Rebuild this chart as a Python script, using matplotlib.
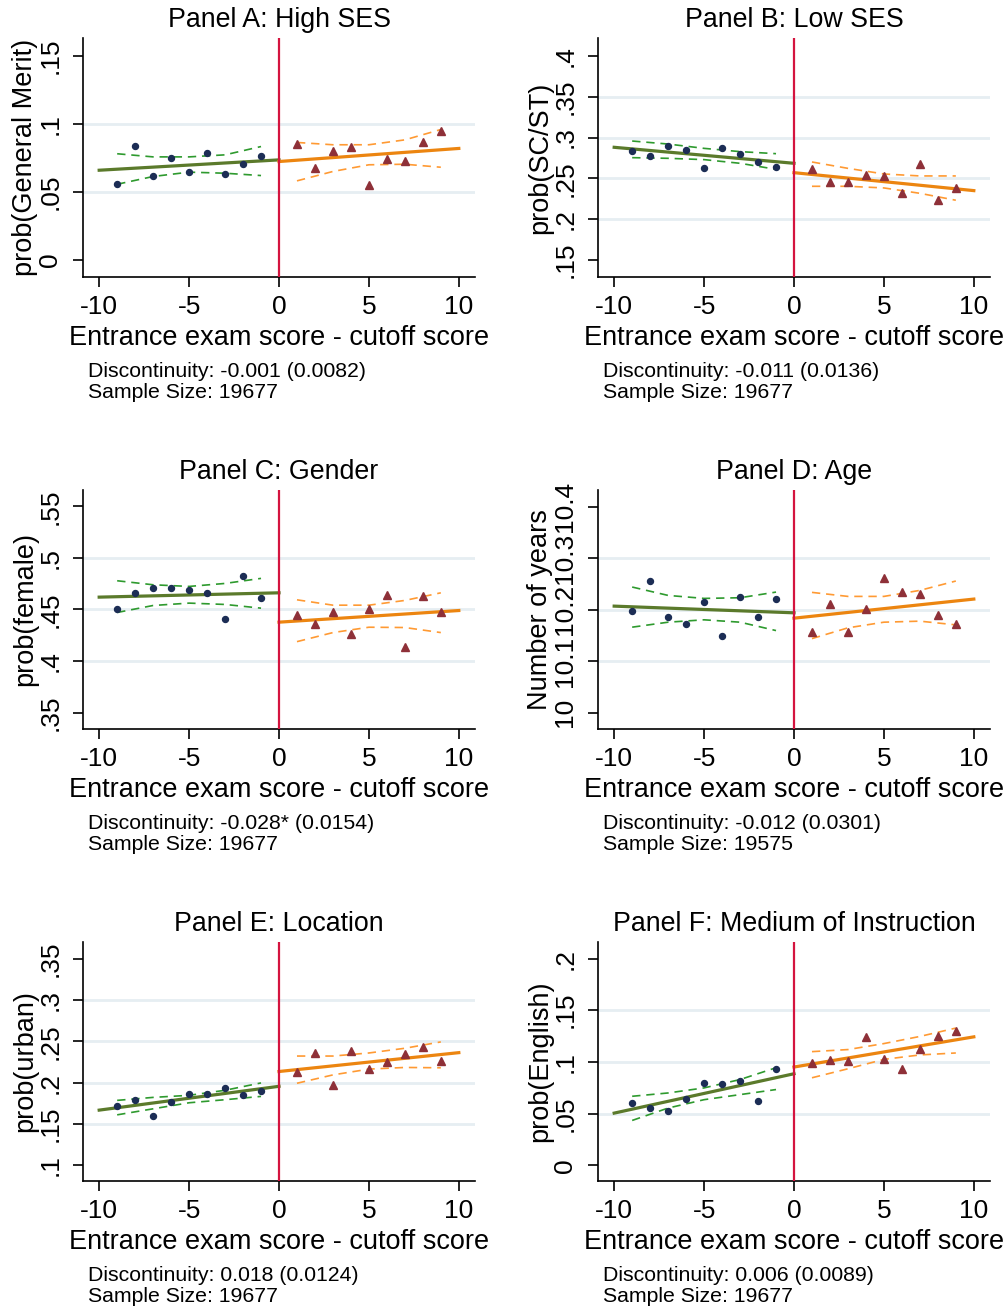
import numpy as np
import matplotlib
matplotlib.use("Agg")
from matplotlib import pyplot as plt

plt.rcParams['font.family'] = ['Liberation Sans', 'DejaVu Sans']

# bins of the running variable
x_left = [-9, -8, -7, -6, -5, -4, -3, -2, -1]
x_right = [1, 2, 3, 4, 5, 6, 7, 8, 9]
# points where the confidence bands were read
ci_x_left = [-9, -7, -5, -3, -1]
ci_x_right = [1, 3, 5, 7, 9]
fit_x_left = [-10, 0]
fit_x_right = [0, 10]

titles = ["Panel A: High SES", "Panel B: Low SES", "Panel C: Gender",
          "Panel D: Age", "Panel E: Location", "Panel F: Medium of Instruction"]
ylabels = ["prob(General Merit)", "prob(SC/ST)", "prob(female)",
           "Number of years", "prob(urban)", "prob(English)"]
yticks = [[0, 0.05, 0.1, 0.15],
          [0.15, 0.2, 0.25, 0.3, 0.35, 0.4],
          [0.35, 0.4, 0.45, 0.5, 0.55],
          [10, 10.1, 10.2, 10.3, 10.4],
          [0.1, 0.15, 0.2, 0.25, 0.3, 0.35],
          [0, 0.05, 0.1, 0.15, 0.2]]
yticklabels = [["0", ".05", ".1", ".15"],
               [".15", ".2", ".25", ".3", ".35", ".4"],
               [".35", ".4", ".45", ".5", ".55"],
               ["10", "10.1", "10.2", "10.3", "10.4"],
               [".1", ".15", ".2", ".25", ".3", ".35"],
               ["0", ".05", ".1", ".15", ".2"]]
ylims = [(-0.0125, 0.163), (0.129, 0.422), (0.334, 0.566),
         (9.968, 10.4325), (0.081, 0.37), (-0.0153, 0.216)]
disc = ["-0.001 (0.0082)", "-0.011 (0.0136)", "-0.028* (0.0154)",
        "-0.012 (0.0301)", "0.018 (0.0124)", "0.006 (0.0089)"]
sample = ["19677", "19677", "19677", "19575", "19677", "19677"]

# bin means
dots_a = [0.0556, 0.0838, 0.0615, 0.0748, 0.0647, 0.0787, 0.0630, 0.0703, 0.0760]
tri_a = [0.0853, 0.0674, 0.0799, 0.0831, 0.0549, 0.0738, 0.0730, 0.0865, 0.0944]
dots_b = [0.2839, 0.2778, 0.2896, 0.2847, 0.2631, 0.2876, 0.2794, 0.2696, 0.2643]
tri_b = [0.2610, 0.2451, 0.2459, 0.2541, 0.2529, 0.2324, 0.2676, 0.2239, 0.2382]
dots_c = [0.4506, 0.4659, 0.4705, 0.4705, 0.4692, 0.4662, 0.4403, 0.4825, 0.4610]
tri_c = [0.4448, 0.4357, 0.4474, 0.4260, 0.4503, 0.4643, 0.4136, 0.4630, 0.4480]
dots_d = [10.197, 10.256, 10.186, 10.172, 10.215, 10.148, 10.224, 10.185, 10.220]
tri_d = [10.156, 10.211, 10.156, 10.202, 10.262, 10.235, 10.231, 10.189, 10.172]
dots_e = [0.1720, 0.1789, 0.1598, 0.1768, 0.1866, 0.1866, 0.1939, 0.1846, 0.1902]
tri_e = [0.2134, 0.2358, 0.1976, 0.2386, 0.2163, 0.2252, 0.2341, 0.2435, 0.2260]
dots_f = [0.0602, 0.0553, 0.0520, 0.0644, 0.0793, 0.0787, 0.0813, 0.0624, 0.0927]
tri_f = [0.0985, 0.1018, 0.1008, 0.1236, 0.1031, 0.0933, 0.1122, 0.1246, 0.1294]

# linear fits (value at the two ends)
fitl = [[0.0659, 0.0735], [0.2880, 0.2684], [0.4620, 0.4662],
        [10.2068, 10.1938], [0.1667, 0.1955], [0.0504, 0.0885]]
fitr = [[0.0723, 0.0819], [0.2569, 0.2349], [0.4377, 0.4490],
        [10.1834, 10.2205], [0.2134, 0.2362], [0.0950, 0.1242]]

# confidence bands
ci_up_l = [[0.0780, 0.0757, 0.0757, 0.0772, 0.0833],
           [0.2957, 0.2920, 0.2867, 0.2827, 0.2802],
           [0.4779, 0.4740, 0.4724, 0.4753, 0.4802],
           [10.2439, 10.2276, 10.2218, 10.2231, 10.2341],
           [0.1785, 0.1821, 0.1846, 0.1907, 0.1996],
           [0.0667, 0.0699, 0.0748, 0.0829, 0.0943]]
ci_lo_l = [[0.0556, 0.0613, 0.0645, 0.0637, 0.0620],
           [0.2753, 0.2745, 0.2729, 0.2684, 0.2610],
           [0.4471, 0.4539, 0.4562, 0.4549, 0.4513],
           [10.1659, 10.1756, 10.1802, 10.1756, 10.1593],
           [0.1610, 0.1683, 0.1756, 0.1793, 0.1833],
           [0.0433, 0.0553, 0.0634, 0.0683, 0.0732]]
ci_up_r = [[0.0863, 0.0846, 0.0846, 0.0882, 0.0958],
           [0.2700, 0.2622, 0.2553, 0.2529, 0.2529],
           [0.4594, 0.4542, 0.4542, 0.4588, 0.4662],
           [10.2335, 10.2257, 10.2257, 10.2374, 10.2556],
           [0.2321, 0.2321, 0.2358, 0.2415, 0.2492],
           [0.1099, 0.1119, 0.1177, 0.1246, 0.1327]]
ci_lo_r = [[0.0581, 0.0650, 0.0699, 0.0703, 0.0681],
           [0.2402, 0.2402, 0.2382, 0.2316, 0.2231],
           [0.4188, 0.4276, 0.4328, 0.4325, 0.4276],
           [10.1437, 10.1646, 10.1756, 10.1776, 10.1704],
           [0.1992, 0.2093, 0.2163, 0.2183, 0.2179],
           [0.0846, 0.0933, 0.1024, 0.1067, 0.1086]]

dots = [dots_a, dots_b, dots_c, dots_d, dots_e, dots_f]
tris = [tri_a, tri_b, tri_c, tri_d, tri_e, tri_f]

W, H = 1006, 1309
fig = plt.figure(figsize=(W / 100, H / 100), dpi=100)

col_left = [83, 598]
col_w = 392
row_top = [38, 490, 942]
row_h = 239

for i in range(6):
    r, c = i // 2, i % 2
    x0 = col_left[c]
    y0 = row_top[r]
    ax = fig.add_axes([x0 / W, 1 - (y0 + row_h) / H, col_w / W, row_h / H])

    ax.set_xlim(-10.9, 10.9)
    ax.set_ylim(*ylims[i])
    for t in yticks[i][1:-1]:
        ax.axhline(t, color='#e6eef2', lw=2, zorder=0)

    ax.plot(ci_x_left, ci_up_l[i], ls=(0, (5, 3.5)), color='#2e9a2e', lw=1.2, zorder=2)
    ax.plot(ci_x_left, ci_lo_l[i], ls=(0, (5, 3.5)), color='#2e9a2e', lw=1.2, zorder=2)
    ax.plot(ci_x_right, ci_up_r[i], ls=(0, (5, 3.5)), color='#ff9a33', lw=1.2, zorder=2)
    ax.plot(ci_x_right, ci_lo_r[i], ls=(0, (5, 3.5)), color='#ff9a33', lw=1.2, zorder=2)
    ax.plot(fit_x_left, fitl[i], color='#5b7a2b', lw=2.3, zorder=3)
    ax.plot(fit_x_right, fitr[i], color='#ec8510', lw=2.3, zorder=3)
    ax.plot(x_left, dots[i], 'o', color='#1c2d55', ms=4.3, zorder=4)
    ax.plot(x_right, tris[i], '^', color='#8e3038', ms=5.8, zorder=4)
    ax.axvline(0, color='#d4143f', lw=1.6, zorder=3)

    ax.spines['top'].set_visible(False)
    ax.spines['right'].set_visible(False)
    ax.spines['left'].set_linewidth(1.2)
    ax.spines['bottom'].set_linewidth(1.2)
    ax.set_xticks([-10, -5, 0, 5, 10])
    ax.set_xticklabels(["-10", "-5", "0", "5", "10"], fontsize=19)
    ax.set_yticks(yticks[i])
    ax.set_yticklabels(yticklabels[i], fontsize=19, rotation=90, va='center')
    ax.tick_params(length=7, width=1.2)
    ax.tick_params(axis='x', pad=6)
    ax.tick_params(axis='y', pad=8)
    ax.set_xlabel("Entrance exam score - cutoff score", fontsize=19.5, labelpad=4)
    ax.set_ylabel(ylabels[i], fontsize=19.5, labelpad=0)
    ax.set_title(titles[i], fontsize=19.3, pad=8)

    tx = 88 if c == 0 else 603
    ty = 377 + 452 * r
    fig.text(tx / W, 1 - ty / H, "Discontinuity: " + disc[i], fontsize=15.3, va='baseline')
    fig.text(tx / W, 1 - (ty + 21) / H, "Sample Size: " + sample[i], fontsize=15.3, va='baseline')

fig.savefig("out.png", dpi=100)
